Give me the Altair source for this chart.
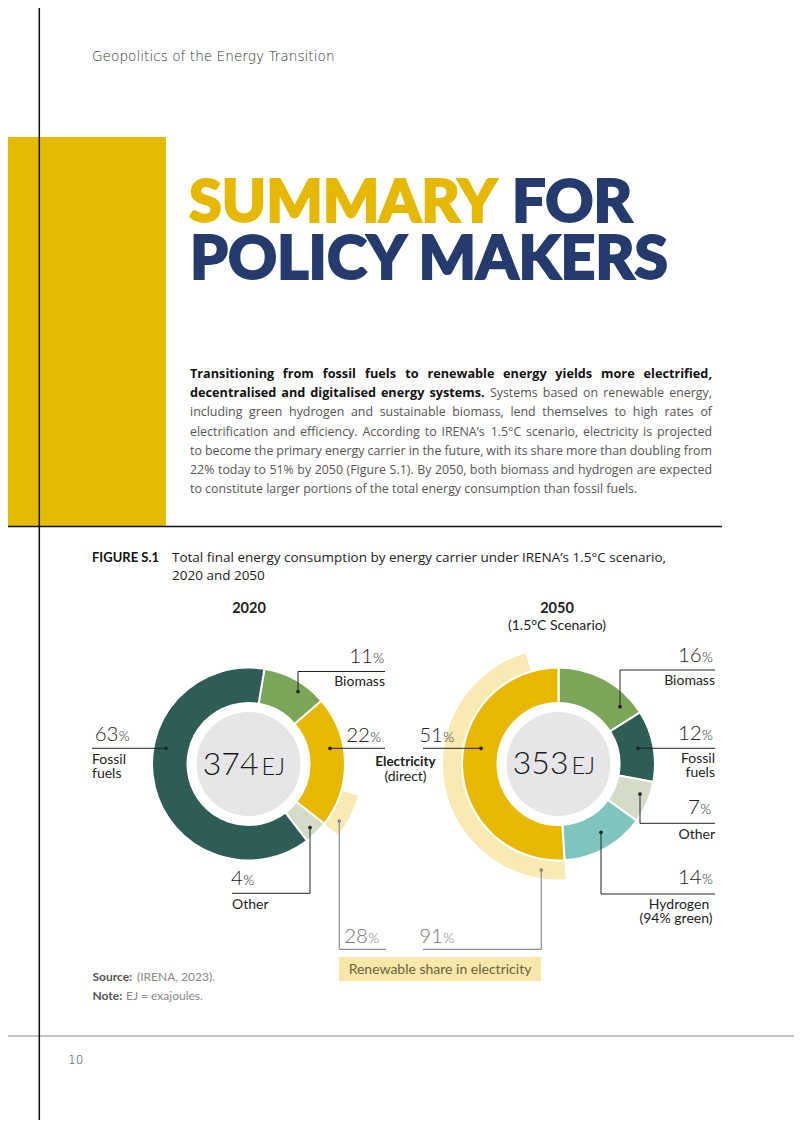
import math
import altair as alt
import pandas as pd

# ---------------- data ----------------
carriers_2020 = ["Biomass", "Electricity (direct)", "Other", "Fossil fuels"]
shares_2020 = [11, 22, 4, 63]
carriers_2050 = ["Biomass", "Fossil fuels", "Other", "Hydrogen", "Electricity (direct)"]
shares_2050 = [16, 12, 7, 14, 51]
years = ["2020", "2050"]
total_ej = [374, 353]
renewable_share_in_electricity = [28, 91]

COLOR_DOMAIN = ["Fossil fuels", "Biomass", "Electricity (direct)", "Other", "Hydrogen", "Renewable share"]
COLOR_RANGE = ["#2E5C57", "#7BA659", "#E8B800", "#D4DCC8", "#7DC5BD", "#F9E9B3"]

# ---------------- layout helpers ----------------
OX, OY = 8, 8
FONT = "Lato"
BODY = "Open Sans"
DARK = "#222222"
GREY = "#555555"
NAVY = "#253B6E"
YELLOW = "#E6B800"


def px(x):
    return x - OX


def py(y):
    return y - OY


ONE = pd.DataFrame({"k": [0]})


def text(s, x, y, size=13, weight="normal", color=DARK, align="left", font=FONT, **kw):
    return alt.Chart(pd.DataFrame({"t": [s]})).mark_text(
        align=align, baseline="alphabetic", fontSize=size, fontWeight=weight,
        color=color, font=font, **kw
    ).encode(x=alt.value(px(x)), y=alt.value(py(y)), text="t:N")


def rule(x1, y1, x2, y2, color=DARK, w=1.0):
    return alt.Chart(ONE).mark_rule(color=color, strokeWidth=w).encode(
        x=alt.value(px(x1)), y=alt.value(py(y1)),
        x2=alt.value(px(x2)), y2=alt.value(py(y2)))


def rect(x1, y1, x2, y2, color):
    return alt.Chart(ONE).mark_rect(color=color).encode(
        x=alt.value(px(x1)), y=alt.value(py(y1)),
        x2=alt.value(px(x2)), y2=alt.value(py(y2)))


def dot(x, y, color=DARK):
    return alt.Chart(ONE).mark_circle(size=14, color=color, opacity=1).encode(
        x=alt.value(px(x)), y=alt.value(py(y)))


def pct(value, split_x, y, color=DARK):
    return [
        text(str(value), split_x, y, size=20.5, weight=300, color=color, align="right"),
        text("%", split_x + 0.3, y, size=14, weight=300, color=color, align="left"),
    ]


# --- approximate advance widths (em) for paragraph justification ---
REG_W = dict(zip("abcdefghijklmnopqrstuvwxyz",
                 [.556, .613, .476, .613, .561, .339, .548, .614, .253, .253, .525, .253, .930,
                  .614, .604, .613, .613, .408, .477, .353, .614, .501, .778, .524, .502, .477]))
REG_W.update({",": .25, ".": .266, "%": .833, "(": .293, ")": .293, "\u00b0": .417, "\u2019": .174,
              "A": .633, "B": .648, "C": .631, "E": .556, "F": .519, "I": .308, "N": .797,
              "R": .631, "S": .547})
REG_W.update({d: .572 for d in "0123456789"})
BOLD_W = dict(zip("abcdefghijklmnopqrstuvwxyz",
                  [.583, .631, .514, .631, .590, .402, .559, .656, .306, .306, .600, .306, .977,
                   .656, .618, .631, .631, .454, .499, .434, .656, .560, .857, .580, .563, .500]))
BOLD_W.update({",": .271, ".": .300, "T": .565})


def wwidth(word, table, size):
    return sum(table.get(c, .55) for c in word) * size


def justified(segments, y, x0=190, x1=712):
    """segments: list of (text, bold) chunks forming one justified line."""
    words = []
    for seg, bold in segments:
        for w in seg.split(" "):
            size = 12.7 if bold else 12.4
            words.append((w, bold, wwidth(w, BOLD_W if bold else REG_W, size)))
    gap = (x1 - x0 - sum(w[2] for w in words)) / (len(words) - 1)
    rows, xpos = [], x0
    for i, (w, bold, wd) in enumerate(words):
        last = i == len(words) - 1
        rows.append({"w": w, "bold": bold, "x": px(x1) if last else px(xpos),
                     "a": "right" if last else "left"})
        xpos += wd + gap
    df = pd.DataFrame(rows)
    out = []
    for bold in (True, False):
        for a in ("left", "right"):
            sub = df[(df.bold == bold) & (df.a == a)]
            if len(sub) == 0:
                continue
            out.append(alt.Chart(sub).mark_text(
                align=a, baseline="alphabetic", font=BODY,
                fontSize=12.7 if bold else 12.4, fontWeight="bold" if bold else "normal",
                color="#111111" if bold else GREY
            ).encode(x=alt.X("x:Q", scale=None), y=alt.value(py(y)), text="w:N"))
    return out


color_scale = alt.Scale(domain=COLOR_DOMAIN, range=COLOR_RANGE)


def donut(carriers, shares, cx, cy, rot):
    df = pd.DataFrame({"carrier": carriers, "share": shares, "order": list(range(len(shares)))})
    tscale = alt.Scale(domain=[0, 100], range=[rot, rot + 2 * math.pi])
    return alt.Chart(df).transform_window(
        end="sum(share)", sort=[alt.SortField("order")], frame=[None, 0]
    ).transform_calculate(start="datum.end - datum.share").mark_arc(
        radius=96.5, radius2=61, stroke="white", strokeWidth=2
    ).encode(
        theta=alt.Theta("start:Q", scale=tscale),
        theta2="end:Q",
        color=alt.Color("carrier:N", scale=color_scale, legend=None),
        x=alt.value(px(cx)), y=alt.value(py(cy)),
    )


def renewable_arc(carriers, shares, rshare, anchor_end, cx, cy, rot, outer):
    i = carriers.index("Electricity (direct)")
    e_end = sum(shares[: i + 1])
    e_start = e_end - shares[i]
    span = shares[i] * rshare / 100.0
    if anchor_end:
        s, e = e_end - span, e_end
    else:
        s, e = e_start, e_start + span
    df = pd.DataFrame({"carrier": ["Renewable share"], "s": [s], "e": [e]})
    tscale = alt.Scale(domain=[0, 100], range=[rot, rot + 2 * math.pi])
    return alt.Chart(df).mark_arc(radius=outer, radius2=97.5).encode(
        theta=alt.Theta("s:Q", scale=tscale),
        theta2="e:Q",
        color=alt.Color("carrier:N", scale=color_scale, legend=None),
        x=alt.value(px(cx)), y=alt.value(py(cy)),
    )


def centre_disc(cx, cy):
    return alt.Chart(ONE).mark_arc(radius=52, theta=0, theta2=2 * math.pi, color="#E6E6E8").encode(
        x=alt.value(px(cx)), y=alt.value(py(cy)))


C20 = (248.5, 764)
C50 = (558.5, 764)
ROT20 = math.radians(9.5)
ROT50 = 0.0

layers = []

# page furniture
layers.append(rect(0, 137, 166, 526, "#E5BA00"))
layers.append(rule(0, 526.5, 722, 526.5, "#111111", 1.5))
layers.append(rule(0, 1036, 802, 1036, "#888888", 1.2))
layers.append(rule(39.3, 0, 39.3, 1138, "#111111", 1.5))
layers.append(text("Geopolitics of the Energy Transition", 92, 60.5, size=13.7, weight=200,
                   color="#333333", font="DejaVu Sans"))
layers.append(text("10", 68, 1064, size=12, color="#333333", font="DejaVu Sans", weight=200))

# title
layers.append(text("SUMMARY", 189, 222, size=59.5, weight=900, color=YELLOW, stroke=YELLOW, strokeWidth=2))
layers.append(text("FOR", 512, 222, size=59.5, weight=900, color=NAVY, stroke=NAVY, strokeWidth=2))
layers.append(text("POLICY MAKERS", 190, 279, size=60.5, weight=900, color=NAVY, stroke=NAVY,
                   strokeWidth=2))

# paragraph (justified)
para = [
    [("Transitioning from fossil fuels to renewable energy yields more electrified,", True)],
    [("decentralised and digitalised energy systems.", True), ("Systems based on renewable energy,", False)],
    [("including green hydrogen and sustainable biomass, lend themselves to high rates of", False)],
    [("electrification and efficiency. According to IRENA\u2019s 1.5\u00b0C scenario, electricity is projected",
      False)],
    [("to become the primary energy carrier in the future, with its share more than doubling from", False)],
    [("22% today to 51% by 2050 (Figure S.1). By 2050, both biomass and hydrogen are expected", False)],
]
for k, segs in enumerate(para):
    layers += justified(segs, 378 + 19.2 * k)
layers.append(text("to constitute larger portions of the total energy consumption than fossil fuels.",
                   190, 378 + 19.2 * 6, size=12.4, color=GREY, font=BODY))

# figure caption
layers.append(text("FIGURE S.1", 92, 562, size=13, weight="bold", color="#111111"))
layers.append(text("Total final energy consumption by energy carrier under IRENA\u2019s 1.5\u00b0C scenario,",
                   172, 562, size=13.5, color="#222222", font=BODY))
layers.append(text("2020 and 2050", 172, 580, size=13.5, color="#222222", font=BODY))
layers.append(text(years[0], 249, 613, size=14.5, weight="bold", align="center"))
layers.append(text(years[1], 557, 613, size=14.5, weight="bold", align="center"))
layers.append(text("(1.5\u00b0C Scenario)", 557, 630, size=14, align="center"))

# donuts
layers.append(renewable_arc(carriers_2020, shares_2020, renewable_share_in_electricity[0], True,
                            *C20, ROT20, 114))
layers.append(renewable_arc(carriers_2050, shares_2050, renewable_share_in_electricity[1], False,
                            *C50, ROT50, 115.5))
layers.append(donut(carriers_2020, shares_2020, *C20, ROT20))
layers.append(donut(carriers_2050, shares_2050, *C50, ROT50))
layers.append(centre_disc(*C20))
layers.append(centre_disc(*C50))

# centre totals
layers.append(text(str(total_ej[0]), 258.5, 775, size=32, weight=300, align="right", color="#1a1a1a"))
layers.append(text("EJ", 261.5, 775, size=23.5, weight=300, align="left", color="#1a1a1a"))
layers.append(text(str(total_ej[1]), 568.5, 773.5, size=32, weight=300, align="right", color="#1a1a1a"))
layers.append(text("EJ", 571.5, 773.5, size=23.5, weight=300, align="left", color="#1a1a1a"))

s20 = dict(zip(carriers_2020, shares_2020))
s50 = dict(zip(carriers_2050, shares_2050))
LBL = 14

# 2020 labels
layers += pct(s20["Biomass"], 373, 663)
layers.append(text("Biomass", 385, 685.5, size=LBL, align="right"))
layers.append(rule(298, 671.5, 385, 671.5))
layers.append(rule(298, 671.5, 298, 691.5))
layers.append(dot(298, 691.5))

layers += pct(s20["Electricity (direct)"], 370, 742)
layers.append(rule(330, 748.3, 385, 748.3))
layers.append(dot(330, 748.3))
layers.append(text("Electricity", 405.5, 766, size=13.5, weight="bold", align="center"))
layers.append(text("(direct)", 405.5, 780.5, size=LBL, align="center"))

layers += pct(s20["Fossil fuels"], 118.5, 740.5)
layers.append(rule(92, 748.3, 166, 748.3))
layers.append(dot(166, 748.3))
layers.append(text("Fossil", 92, 763.5, size=LBL))
layers.append(text("fuels", 92, 777.5, size=LBL))

layers += pct(s20["Other"], 243, 885)
layers.append(rule(232, 893.3, 310, 893.3))
layers.append(rule(310, 827.5, 310, 893.3))
layers.append(dot(310, 827.5))
layers.append(text("Other", 232, 909, size=LBL))

# 2050 labels
layers += pct(s50["Biomass"], 701.7, 662)
layers.append(text("Biomass", 715, 685, size=LBL, align="right"))
layers.append(rule(620, 670, 715, 670))
layers.append(rule(620, 670, 620, 706.7))
layers.append(dot(620, 706.7))

layers += pct(s50["Fossil fuels"], 701.7, 740)
layers.append(rule(638, 748.3, 715, 748.3))
layers.append(dot(638, 748.3))
layers.append(text("Fossil", 715, 763, size=LBL, align="right"))
layers.append(text("fuels", 715, 777, size=LBL, align="right"))

layers += pct(s50["Other"], 700, 813.5)
layers.append(rule(640, 823.3, 715, 823.3))
layers.append(rule(640, 794, 640, 823.3))
layers.append(dot(640, 794))
layers.append(text("Other", 715, 839, size=LBL, align="right"))

layers += pct(s50["Hydrogen"], 701.7, 884)
layers.append(rule(601, 894, 715, 894))
layers.append(rule(601, 832.3, 601, 894))
layers.append(dot(601, 832.3))
layers.append(text("Hydrogen", 679, 908.5, size=LBL, align="center"))
layers.append(text("(94% green)", 676, 922.5, size=LBL, align="center"))

layers += pct(s50["Electricity (direct)"], 443, 742)
layers.append(rule(423, 748.3, 481, 748.3))
layers.append(dot(481, 748.3))

# renewable share call-outs
RG = "#8C8C8C"
layers.append(rule(339.3, 821, 339.3, 949.3, RG, 1.2))
layers.append(rule(339.3, 949.3, 386, 949.3, RG, 1.2))
layers.append(dot(339.3, 821, RG))
layers += pct(renewable_share_in_electricity[0], 368, 943, color="#777777")
layers.append(rule(541.3, 870, 541.3, 949.3, RG, 1.2))
layers.append(rule(423, 949.3, 541.3, 949.3, RG, 1.2))
layers.append(dot(541.3, 870, RG))
layers += pct(renewable_share_in_electricity[1], 443, 943, color="#777777")
layers.append(rect(339, 957, 541, 981, "#F8E7A8"))
layers.append(text("Renewable share in electricity", 440, 973.5, size=14, color="#6A6340",
                   align="center"))

# source & note
layers.append(text("Source:", 92.5, 981, size=12, weight="bold", color="#555555"))
layers.append(text("(IRENA, 2023).", 137, 981, size=12, color="#888888"))
layers.append(text("Note:", 92.5, 1000, size=12, weight="bold", color="#555555"))
layers.append(text("EJ = exajoules.", 126, 1000, size=12, color="#888888"))

chart = alt.layer(*layers).resolve_scale(theta="independent").properties(
    width=786, height=1112, autosize="none", padding=0, background="white"
).configure_view(stroke=None)

chart.save("out.html", embed_options={"renderer": "svg", "actions": False})
